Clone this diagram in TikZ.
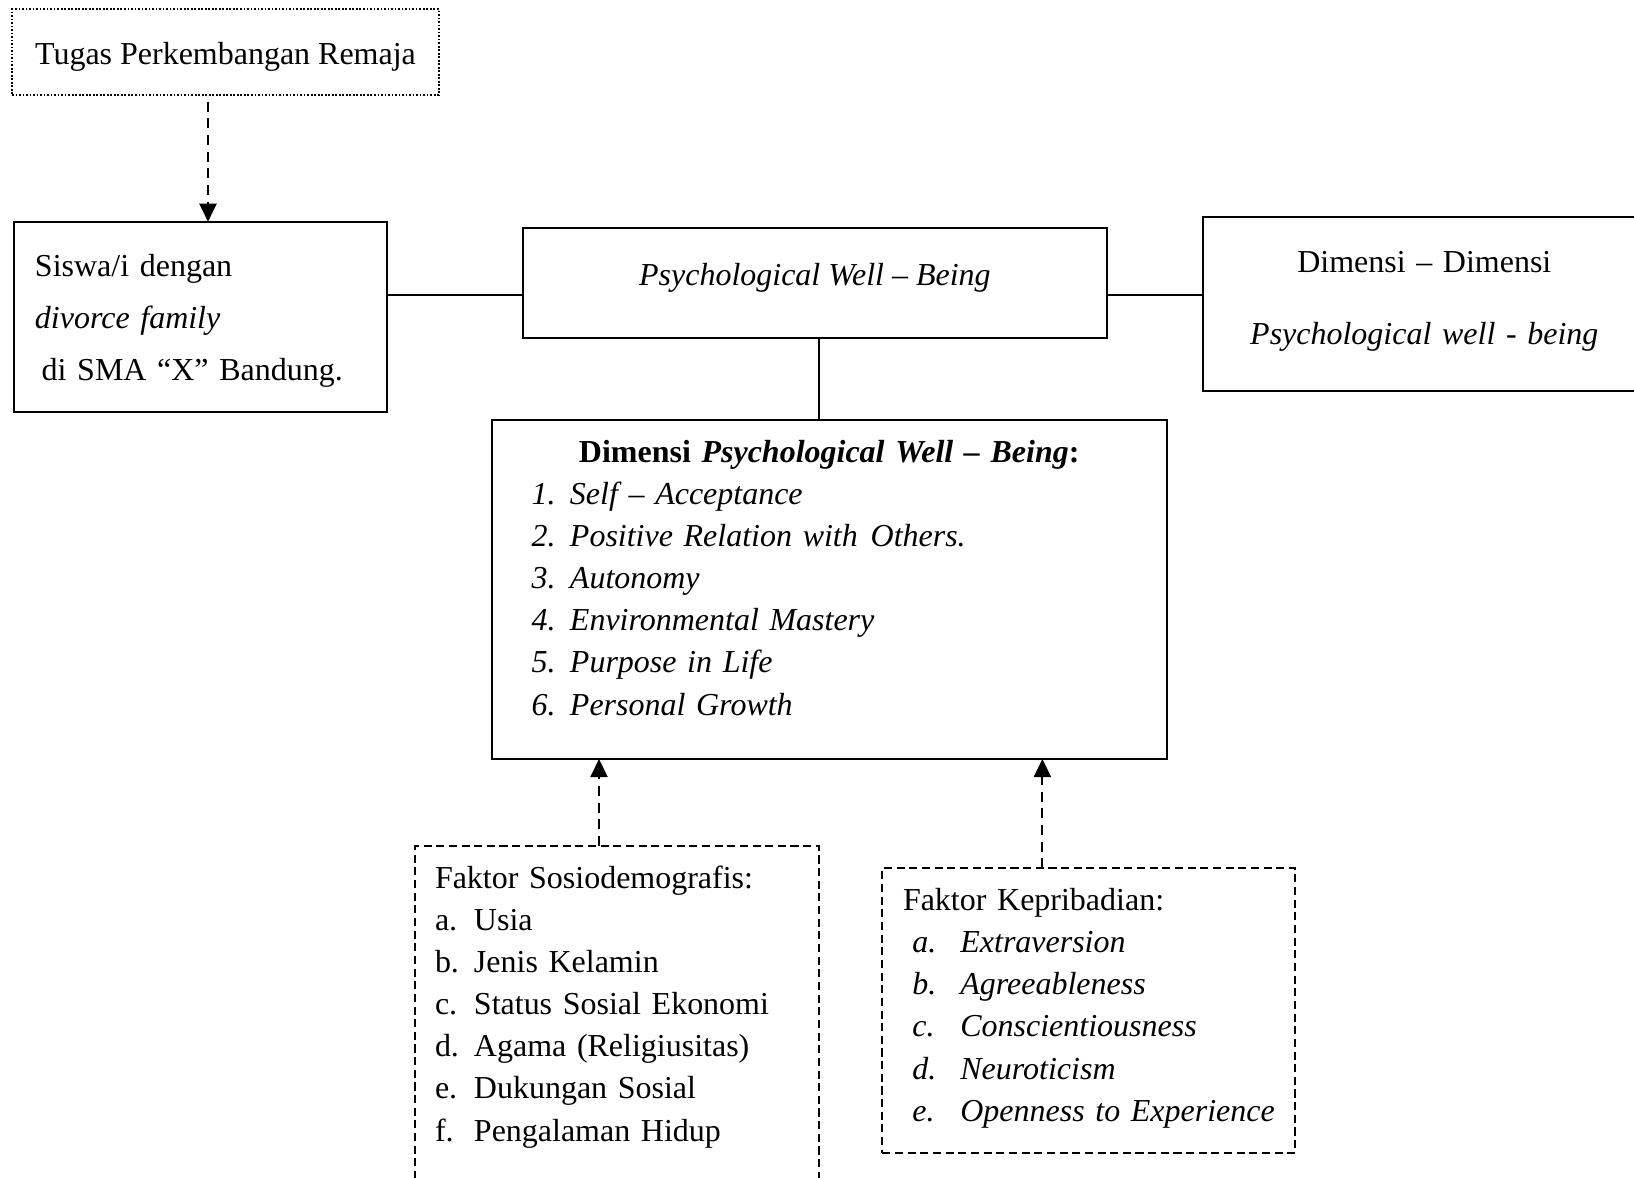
\documentclass[tikz,border=0pt]{standalone}
\usepackage{fontspec}
\setmainfont{Liberation Serif}
\usetikzlibrary{arrows.meta,positioning}
\definecolor{Ink}{HTML}{000000}
\tikzset{
  plainbox/.style={draw=Ink, line width=0.6pt, inner sep=0pt, outer sep=0pt},
  dotbox/.style={draw=Ink, line width=0.5pt, dash pattern=on 0.5pt off 0.5pt, inner sep=0pt, outer sep=0pt},
  dashbox/.style={draw=Ink, line width=0.6pt, dash pattern=on 2.3pt off 1.3pt, inner sep=0pt, outer sep=0pt},
  link/.style={draw=Ink, line width=0.6pt},
  dashlink/.style={-{Triangle[length=1.8mm,width=1.7mm]}, draw=Ink, line width=0.6pt,
    dash pattern=on 2.85pt off 1.9pt}
}

\begin{document}
\begin{tikzpicture}[font=\fontsize{9.1}{12}\selectfont]
  \useasboundingbox (0,0) rectangle (16.34,-11.78);
  \clip (0,0) rectangle (16.34,-11.78);
  % top row
  \node[dotbox, minimum width=4.27cm, text height=0.55cm, text depth=0.307cm,
    anchor=north west] (tugas) at (0.12,-0.093) {Tugas Perkembangan Remaja};
  \node[plainbox, text width=3.316cm, inner xsep=0.207cm, align=left,
    text height=0.55cm, text depth=1.356cm, font=\fontsize{9.1}{14.8}\selectfont,
    below right=1.267cm and 0.023cm of tugas.south west] (siswa)
    {Siswa/i dengan\\ \textit{divorce family}\\ \hspace*{0.067cm}di SMA “X” Bandung.};
  \node[plainbox, minimum width=5.843cm, text height=0.58cm, text depth=0.52cm,
    below right=0.06cm and 1.354cm of siswa.north east] (pwb)
    {\textit{Psychological Well – Being}};
  \node[plainbox, text width=4.42cm, align=center, text height=0.56cm, text depth=1.18cm,
    anchor=north west] (dimdim) at (12.033,-2.167)
    {Dimensi – Dimensi\\[8.4pt]\textit{Psychological well - being}};
  % dimensions
  \node[plainbox, text width=5.95cm, inner xsep=0.40cm, align=left,
    text height=0.42cm, text depth=2.97cm,
    below=0.823cm of pwb.south west, anchor=north west, xshift=-0.31cm] (dimensi)
    {{\centering\bfseries Dimensi \textit{Psychological Well – Being}:\par}
     \itshape
     \makebox[0.383cm][l]{1.}Self – Acceptance\\
     \makebox[0.383cm][l]{2.}Positive Relation with\hspace{0.4em}Others.\\
     \makebox[0.383cm][l]{3.}Autonomy\\
     \makebox[0.383cm][l]{4.}Environmental Mastery\\
     \makebox[0.383cm][l]{5.}Purpose in Life\\
     \makebox[0.383cm][l]{6.}Personal Growth};
  % factors
  \node[dashbox, text width=3.64cm, inner xsep=0.20cm, align=left,
    text height=0.42cm, text depth=3.18cm,
    below=0.87cm of dimensi.south west, anchor=north west, xshift=-0.767cm] (sosio)
    {Faktor Sosiodemografis:\\
     \makebox[0.39cm][l]{a.}Usia\\
     \makebox[0.39cm][l]{b.}Jenis Kelamin\\
     \makebox[0.39cm][l]{c.}Status Sosial Ekonomi\\
     \makebox[0.39cm][l]{d.}Agama (Religiusitas)\\
     \makebox[0.39cm][l]{e.}Dukungan Sosial\\
     \makebox[0.39cm][l]{f.}Pengalaman Hidup};
  \node[dashbox, text width=3.718cm, inner xsep=0.206cm, align=left,
    text height=0.42cm, text depth=2.424cm,
    below right=0.223cm and 0.634cm of sosio.north east] (kepri)
    {Faktor Kepribadian:\\
     \hspace*{0.094cm}\makebox[0.48cm][l]{\textit{a.}}\textit{Extraversion}\\
     \hspace*{0.094cm}\makebox[0.48cm][l]{\textit{b.}}\textit{Agreeableness}\\
     \hspace*{0.094cm}\makebox[0.48cm][l]{\textit{c.}}\textit{Conscientiousness}\\
     \hspace*{0.094cm}\makebox[0.48cm][l]{\textit{d.}}\textit{Neuroticism}\\
     \hspace*{0.094cm}\makebox[0.48cm][l]{\textit{e.}}\textit{Openness to Experience}};
  % connectors
  \draw[dashlink, dash phase=2.85pt] ([xshift=-1.75mm]tugas.south) -- ([xshift=-1.75mm]tugas.south |- siswa.north);
  \draw[link] ([yshift=-1.23mm]pwb.west) -- ([yshift=-1.23mm]pwb.west -| siswa.east);
  \draw[link] ([yshift=-1.23mm]pwb.east) -- ([yshift=-1.23mm]pwb.east -| dimdim.west);
  \draw[link] ([xshift=0.4mm]pwb.south) -- ([xshift=0.4mm]pwb.south |- dimensi.north);
  \draw[dashlink] ([xshift=-1.8mm]sosio.north) -- ([xshift=-1.8mm]sosio.north |- dimensi.south);
  \draw[dashlink] ([xshift=-4.65mm]kepri.north) -- ([xshift=-4.65mm]kepri.north |- dimensi.south);
\end{tikzpicture}
\end{document}
